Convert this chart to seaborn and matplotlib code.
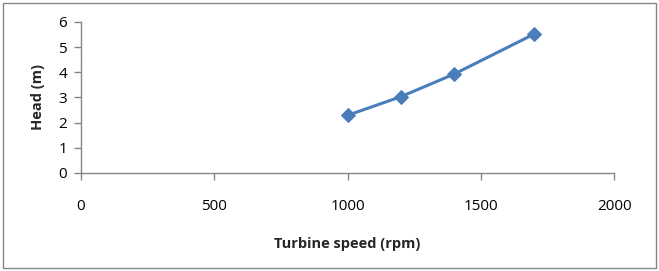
import pandas as pd
import matplotlib
matplotlib.use('Agg')
import matplotlib.pyplot as plt
import seaborn as sns
from matplotlib.patches import Rectangle

# data
speed = [1000, 1200, 1400, 1700]
head = [2.29, 3.03, 3.93, 5.52]

df = pd.DataFrame({'speed': speed, 'head': head})

sns.set_style('white')
plt.rcParams['font.family'] = ['Open Sans', 'DejaVu Sans']

fig = plt.figure(figsize=(6.59, 2.71), dpi=100)
ax = fig.add_axes([0.123, 0.362, 0.809, 0.557])

sns.lineplot(data=df, x='speed', y='head', ax=ax, color='#4a7ebb', lw=2.2,
             marker='D', markersize=7, markeredgecolor='#4a7ebb')

ax.set_xlim(0, 2000)
ax.set_ylim(0, 6)
ax.set_xticks([0, 500, 1000, 1500, 2000])
ax.set_yticks(range(0, 7))

for side in ['top', 'right']:
    ax.spines[side].set_visible(False)
for side in ['left', 'bottom']:
    ax.spines[side].set_color('#868686')
    ax.spines[side].set_linewidth(1)

ax.tick_params(axis='both', which='major', direction='out', length=5, color='#868686',
               labelsize=11, labelcolor='black', width=1, bottom=True, left=True)
ax.tick_params(axis='x', pad=14)
ax.tick_params(axis='y', pad=5)

ax.set_xlabel('Turbine speed (rpm)', fontsize=10.5, fontweight='bold', labelpad=16)
ax.set_ylabel('Head (m)', fontsize=10.5, fontweight='bold', labelpad=10)

# outer chart frame
fig.patches.append(Rectangle((0.005, 0.012), 0.99, 0.976, transform=fig.transFigure,
                             fill=False, edgecolor='#868686', lw=1))

fig.savefig('out.png', dpi=100)
